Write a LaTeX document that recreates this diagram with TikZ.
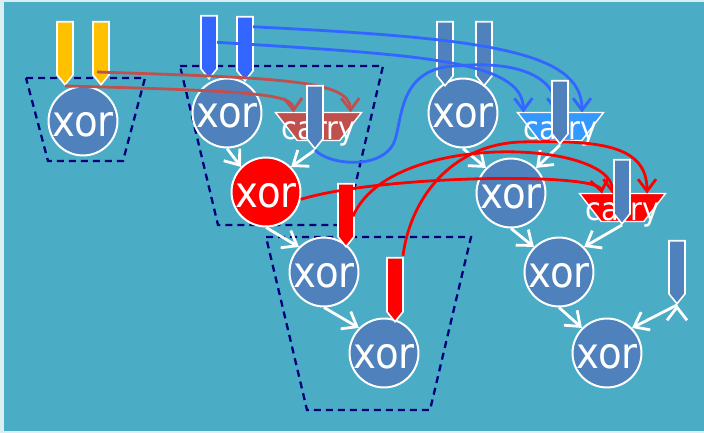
\documentclass[tikz,border=0pt]{standalone}
\usepackage{fontspec}
\setmainfont{DejaVu Sans Condensed}
\usetikzlibrary{arrows.meta}
\usetikzlibrary{shapes.geometric}
\usetikzlibrary{shapes.arrows}
\usetikzlibrary{calc}

\definecolor{sea}{RGB}{75,172,198}
\definecolor{seaedge}{RGB}{218,238,243}
\definecolor{gateblue}{RGB}{79,129,189}
\definecolor{brick}{RGB}{192,80,77}
\definecolor{sky}{RGB}{51,153,255}
\definecolor{royal}{RGB}{51,102,255}
\definecolor{amber}{RGB}{255,192,0}
\definecolor{navy}{RGB}{0,0,120}

\pgfdeclarelayer{front}
\pgfsetlayers{main,front}

\tikzset{
  xorgate/.style={circle, draw=white, line width=2pt, fill=gateblue,
    minimum size=64, inner sep=0pt, text=white,
    font=\fontsize{43}{43}\selectfont, text height=31pt, text depth=1pt},
  carrygate/.style={trapezium, trapezium left angle=63, trapezium right angle=63,
    trapezium stretches=true, shape border rotate=180, draw=white,
    line width=1.4pt, minimum width=86, minimum height=28, inner sep=2pt,
    label={[text=white, font=\fontsize{32}{32}\selectfont, yshift=-7pt]center:carry}},
  feed/.style={single arrow, single arrow head extend=0pt,
    single arrow tip angle=78, shape border rotate=270, draw=white,
    line width=1.6pt, minimum width=16, inner sep=1pt, anchor=tip},
  flow/.style={draw=white, line width=2.8pt,
    -{Straight Barb[length=13pt,width=20pt]}},
  wire/.style={line width=2.8pt, -{Straight Barb[length=12pt,width=18pt]}},
  stagebox/.style={draw=navy, line width=2.3pt, dash pattern=on 7pt off 5pt}
}

\begin{document}
\begin{tikzpicture}[x=1pt, y=-1pt]
  \fill[seaedge] (0,0) rectangle (704,433);
  \fill[sea] (4,2) rectangle (704,431);
  \useasboundingbox (0,0) rectangle (704,433);

  % dashed stages
  \draw[stagebox] (26,78) -- (145,78) -- (123,161) -- (48,161) -- cycle;
  \draw[stagebox] (180,66) -- (383,66) -- (346,225) -- (218,225) -- cycle;
  \draw[stagebox] (266,237) -- (471,237) -- (430,410) -- (307,410) -- cycle;

  % xor gates
  \node[xorgate] (x_1) at (83,121) {xor};
  \node[xorgate] (x_2) at (227,113) {xor};
  \node[xorgate, fill=red] (x_r) at (266,192) {xor};
  \node[xorgate] (x_4) at (324,272) {xor};
  \node[xorgate] (x_5) at (384,353) {xor};
  \node[xorgate] (x_3) at (463,113) {xor};
  \node[xorgate] (x_6) at (511,193) {xor};
  \node[xorgate] (x_7) at (559,272) {xor};
  \node[xorgate] (x_8) at (607,353) {xor};

  % carry gates
  \node[carrygate, fill=brick] (c_1) at (318.5,126.5) {};
  \node[carrygate, fill=sky]   (c_2) at (560.5,126.5) {};
  \node[carrygate, fill=red]   (c_3) at (622.5,207.5) {};

  % inputs
  \node[feed, fill=amber, minimum height=63]    (a_1) at (65,86)  {};
  \node[feed, fill=amber, minimum height=63]    (a_2) at (101,86) {};
  \node[feed, fill=royal, minimum height=63]    (b_1) at (209,80) {};
  \node[feed, fill=royal, minimum height=64]    (b_2) at (245,82) {};
  \node[feed, fill=gateblue, minimum height=64] (s_1) at (445,87) {};
  \node[feed, fill=gateblue, minimum height=64] (s_2) at (484,87) {};
  \node[feed, fill=red, minimum height=63]      (r_1) at (346,248) {};
  \node[feed, fill=red, minimum height=64]      (r_2) at (395,323) {};
  \node[feed, fill=gateblue, minimum height=63] (s_3) at (677,305) {};
  \begin{pgfonlayer}{front}
    \node[feed, fill=gateblue, minimum height=63] (k_1) at (315,150) {};
    \node[feed, fill=gateblue, minimum height=63] (k_2) at (560,145) {};
    \node[feed, fill=gateblue, minimum height=64] (k_3) at (622,225) {};
  \end{pgfonlayer}

  \path[flow]
    (x_2.south) edge (x_r.north west)
    (k_1.tip)   edge (x_r.north east)
    (x_r.south) edge (x_4.north west)
    (x_4.south) edge (x_5.north west)
    (x_3.south) edge (x_6.north west)
    (k_2.tip)   edge (x_6.north east)
    (x_6.south) edge (x_7.north west)
    (k_3.tip)   edge (x_7.north east)
    (x_7.south) edge (x_8.north west)
    (s_3.tip)   edge (x_8.north east);

  % carry lines
  \draw[wire, draw=brick] (a_1.tip)
    .. controls (265,91) and (293,95) .. ($(c_1)+(-25,-14)$);
  \draw[wire, draw=brick] ($(a_2.tip)+(-4,-14)$)
    .. controls (280,78) and (350,80) .. ($(c_1)+(32,-14)$);
  \draw[wire, draw=royal] ($(b_1)+(8,0)$)
    .. controls (420,55) and (523,60) .. ($(c_2)+(-37,-14)$);
  \draw[wire, draw=royal] ($(b_2)+(8,-17)$)
    .. controls (480,38) and (582,50) .. ($(c_2)+(21.5,-14)$);
  \draw[wire, draw=royal] (k_1.tip)
    .. controls (330,166) and (385,170) .. (395,140)
    .. controls (402,118) and (400,75) .. (445,67)
    .. controls (520,58) and (556,78) .. ($(c_2)+(-4,-14)$);
  \draw[wire, draw=red] (x_r.-12)
    .. controls (380,175) and (598,172) .. ($(c_3)+(-20.5,-14)$);
  \draw[wire, draw=red] ($(r_1)+(7,6)$)
    .. controls (390,130) and (612,140) .. ($(c_3)+(-10,-14)$);
  \draw[wire, draw=red] ($(r_2)+(8,-29)$)
    .. controls (410,200) and (450,145) .. (520,142)
    .. controls (600,140) and (647,145) .. ($(c_3)+(24.5,-14)$);
\end{tikzpicture}
\end{document}
